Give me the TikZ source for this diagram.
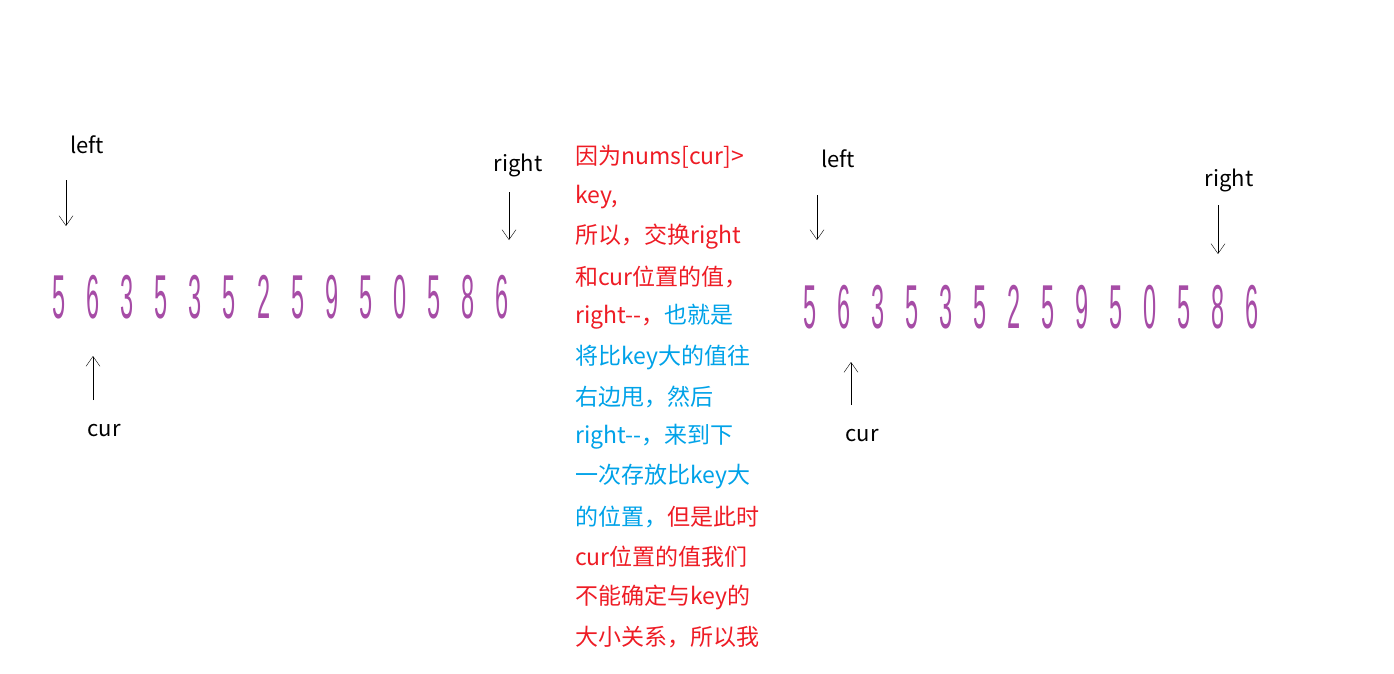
\documentclass[tikz,border=0pt]{standalone}
\usepackage{fontspec}
\setmainfont{Liberation Sans}
\newfontfamily\cjk{Noto Sans CJK SC}
\usetikzlibrary{positioning,arrows.meta}
\definecolor{numpurple}{HTML}{A64CA6}
\definecolor{txtred}{HTML}{EE1C25}
\definecolor{txtblue}{HTML}{00A2E8}
\newcommand{\dg}[1]{\scalebox{0.38}[1]{\fontsize{62}{62}\selectfont #1}}
\tikzset{
  ptr/.style={font=\cjk\fontsize{22}{22}\selectfont, inner sep=0pt},
  num/.style={text=numpurple, inner sep=0pt},
  note/.style={anchor=west, inner sep=0pt, font=\cjk\fontsize{23}{23}\selectfont, text=txtred},
}
\begin{document}
\begin{tikzpicture}[x=1pt,y=-1pt,->,>={Straight Barb[length=10pt,width=14pt]},thin]
\useasboundingbox (0,0) rectangle (1394,674);
% first array
\foreach \d [count=\i] in {5,6,3,5,3,5,2,5,9,5,0,5,8,6}
  \node[num] (a\i) at ({59+34.1*(\i-1)},297) {\dg{\d}};
\node[ptr] (left1) at (87,145) {left};
\node[ptr] (right1) at (518,165) {right};
\node[ptr] (cur1) at (104,431) {cur};
\coordinate (lt1) at (66,180);
\coordinate (rt1) at (509,192);
\coordinate (ct1) at (93,400);
\draw (lt1) -- (66,226);
\draw (rt1) -- (509,240);
\draw (ct1) -- (93,356);
% second array
\foreach \d [count=\i] in {5,6,3,5,3,5,2,5,9,5,0,5,8,6}
  \node[num] (b\i) at ({810+34*(\i-1)},307) {\dg{\d}};
\node[ptr] (left2) at (838,159) {left};
\node[ptr] (right2) at (1229,180) {right};
\node[ptr] (cur2) at (862,436) {cur};
\draw (817,195) -- (817,240);
\draw (1218,205) -- (1218,254);
\draw (851,405) -- (851,362);
% note
\node[note] (n1) at (575,157) {因为nums[cur]>};
\node[note] (n2) at (575,197) {key,};
\node[note] (n3) at (575,237) {所以，交换right};
\node[note] (n4) at (575,277) {和cur位置的值，};
\node[note] (n5) at (575,317) {right--，\textcolor{txtblue}{也就是}};
\node[note, text=txtblue] (n6) at (575,357) {将比key大的值往};
\node[note, text=txtblue] (n7) at (575,397) {右边甩，然后};
\node[note, text=txtblue] (n8) at (575,437) {right--，来到下};
\node[note, text=txtblue] (n9) at (575,477) {一次存放比key大};
\node[note] (n10) at (575,517) {\textcolor{txtblue}{的位置，}但是此时};
\node[note] (n11) at (575,557) {cur位置的值我们};
\node[note] (n12) at (575,597) {不能确定与key的};
\node[note] (n13) at (575,637) {大小关系，所以我};
\end{tikzpicture}
\end{document}
